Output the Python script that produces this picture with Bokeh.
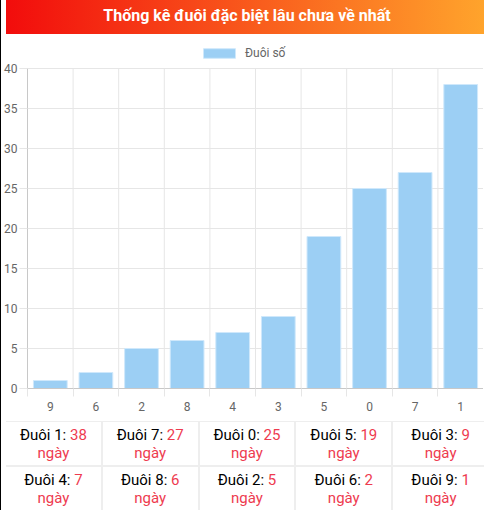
from bokeh.plotting import figure
from bokeh.models import ColumnDataSource, Range1d, FixedTicker, Legend, LegendItem, Div
from bokeh.layouts import column
from bokeh.embed import file_html
from bokeh.resources import INLINE

title = "Thống kê đuôi đặc biệt lâu chưa về nhất"
series_name = "Đuôi số"
categories = ["9", "6", "2", "8", "4", "3", "5", "0", "7", "1"]
values = [1, 2, 5, 6, 7, 9, 19, 25, 27, 38]
y_ticks = [0, 5, 10, 15, 20, 25, 30, 35, 40]
table_digits = ["1", "7", "0", "5", "3", "4", "8", "2", "6", "9"]
table_days = [38, 27, 25, 19, 9, 7, 6, 5, 2, 1]
unit = "ngày"
label_prefix = "Đuôi"

W = 482
RED = "#ee3b4f"
GREY = "#666666"
GRID = "#e6e6e6"
HOST = {"line-height": "0", "font-size": "0", "overflow": "hidden"}

header = Div(
    text=(
        f"<div style=\"display:block;width:{W}px;height:37px;line-height:37px;"
        "text-align:center;font-family:Roboto;font-weight:bold;font-size:16px;color:#fff;"
        "background:linear-gradient(90deg,#f20c0c 0%,#ffa52c 100%);\">"
        f"{title}</div>"
    ),
    width=W, height=37, styles=HOST,
)

xs = [i + 0.5 for i in range(len(categories))]
boundaries = list(range(len(categories) + 1))
src = ColumnDataSource(dict(x=xs, top=values, cat=categories))
ymax = max(y_ticks)

p = figure(width=W, height=377, output_backend="svg", toolbar_location=None,
           x_range=Range1d(0, len(categories)), y_range=Range1d(0, 43.5),
           min_border_left=26, min_border_right=0, min_border_top=1, min_border_bottom=28)
p.outline_line_color = None

vg = p.segment(x0=boundaries, y0=[0] * len(boundaries), x1=boundaries, y1=[ymax] * len(boundaries),
               line_color=GRID, line_width=1)
vg.level = "underlay"

r = p.vbar(x="x", top="top", width=0.74, source=src,
           fill_color="#9ccff4", line_color="#cfe8fb", line_width=1)

p.xaxis.ticker = FixedTicker(ticks=xs, minor_ticks=boundaries)
p.xaxis.major_label_overrides = {x: c for x, c in zip(xs, categories)}
p.xaxis.major_tick_out = 0
p.xaxis.major_tick_in = 0
p.xaxis.minor_tick_out = 8
p.xaxis.minor_tick_in = 0
p.xaxis.minor_tick_line_color = GRID
p.xaxis.major_label_standoff = 5
p.xgrid.grid_line_color = None

p.yaxis.ticker = FixedTicker(ticks=y_ticks)
p.yaxis.bounds = (0, ymax)
p.yaxis.major_tick_out = 8
p.yaxis.major_tick_in = 0
p.yaxis.minor_tick_line_color = None
p.yaxis.major_tick_line_color = GRID
p.yaxis.major_label_standoff = 2
p.ygrid.grid_line_color = GRID

for ax in (p.xaxis[0], p.yaxis[0]):
    ax.axis_line_color = "#c8c8c8"
    ax.major_label_text_font = "Roboto"
    ax.major_label_text_font_size = "12px"
    ax.major_label_text_color = GREY

legend = Legend(items=[LegendItem(label=series_name, renderers=[r])],
                location=(172, 328), orientation="horizontal",
                glyph_width=40, glyph_height=12, label_standoff=6,
                padding=0, margin=0, spacing=0,
                border_line_color=None, background_fill_alpha=0,
                label_text_font="Roboto", label_text_font_size="12px",
                label_text_color=GREY)
p.add_layout(legend)

cells = []
for d, n in zip(table_digits, table_days):
    cells.append(
        "<div style=\"background:#fff;display:flex;flex-direction:column;justify-content:center;"
        "align-items:center;font-family:Roboto;font-size:15px;line-height:18px;color:#000;\">"
        f"<div>{label_prefix} {d}: <span style=\"color:{RED}\">{n}</span></div>"
        f"<div style=\"color:{RED}\">{unit}</div></div>"
    )
table = Div(
    text=(
        f"<div style=\"width:{W}px;height:92px;box-sizing:border-box;padding-top:0px;background:#eeeeee;"
        "display:grid;grid-template-columns:repeat(5,1fr);grid-template-rows:43px 43px;"
        "row-gap:2px;column-gap:2px;border-top:1px solid #eeeeee;border-bottom:2px solid #eeeeee;\">"
        + "".join(cells) + "</div>"
    ),
    width=W, height=92, styles=HOST,
)

layout = column(header, p, table, spacing=0,
                styles={"margin-top": "-8px",
                        "border-left": "1px solid #000", "border-right": "1px solid #000",
                        "border-bottom": "1px solid #000", "background": "#fff"})

open("out.html", "w").write(file_html(layout, INLINE))
